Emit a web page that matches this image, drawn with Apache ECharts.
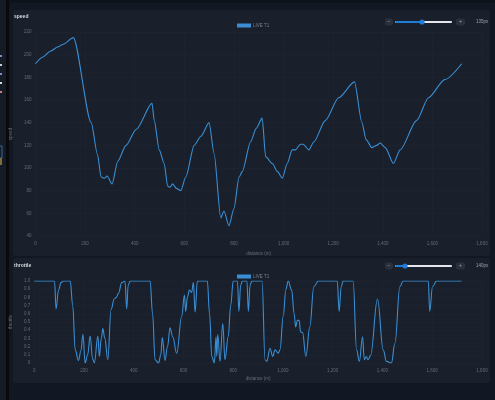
<!DOCTYPE html>
<html>
<head>
<meta charset="utf-8">
<script src="https://cdn.jsdelivr.net/npm/echarts@6/dist/echarts.min.js"></script>
<style>
  html, body { margin: 0; padding: 0; background: #0e131b; }
  #chart { width: 495px; height: 400px; }
</style>
</head>
<body>
<div id="chart"></div>
<script>
// speed trace: [distance m, km/h]
const speedData = [
  [0, 192], [30, 198], [60, 203], [92, 207], [110, 209], [153, 215],
  [225, 140], [250, 112], [265, 92], [278, 91], [289, 93], [309, 86], [332, 106],
  [365, 120], [406, 134], [470, 157], [479, 142], [499, 116], [519, 104], [533, 84],
  [543, 83], [553, 86], [568, 82], [586, 80], [606, 92], [640, 120], [667, 128],
  [700, 140], [720, 113], [747, 56], [760, 62], [780, 49], [800, 64], [821, 92],
  [834, 97], [867, 123], [890, 135], [914, 144], [928, 110], [955, 104], [975, 97],
  [995, 91], [1015, 104], [1035, 116], [1048, 116], [1068, 121], [1079, 121],
  [1102, 116], [1122, 123], [1169, 142], [1222, 162], [1286, 176],
  [1316, 140], [1333, 125], [1356, 118], [1375, 120], [1390, 122], [1410, 118],
  [1443, 104], [1470, 116], [1537, 142], [1584, 162], [1650, 178],
  [1718, 192],
];

// throttle trace: [distance m, 0..1]
const throttleData = [
  [0, 1], [82, 1], [88, 0.66], [98, 0.89], [108, 0.98], [118, 1], [145, 1],
  [155, 0.7], [165, 0.16], [178, 0.03], [188, 0.15], [196, 0.35], [205, 0],
  [215, 0.1], [225, 0.33], [235, 0.05], [242, 0], [256, 0.33], [262, 0.08],
  [270, 0.3], [276, 0.42], [284, 0.3], [296, 0.04], [309, 0.65], [322, 0.78],
  [330, 0.8], [339, 0.85], [352, 0.98], [365, 1], [372, 0.66], [378, 0.95],
  [386, 1], [466, 1], [476, 0.6], [486, 0.04], [500, 0], [509, 0.1], [515, 0.31],
  [526, 0.03], [536, 0.2], [546, 0.43], [557, 0.32], [573, 0.12], [593, 0.57],
  [604, 0.83], [609, 0.63], [616, 0.8], [624, 0.89], [633, 0.86], [640, 0.98],
  [647, 0.62], [656, 1], [696, 1], [705, 0.6], [714, 0.08], [724, 0], [731, 0.32],
  [734, 0.08], [738, 0.35], [747, 0.02], [758, 0.48], [767, 0.04], [780, 0.32],
  [790, 0.7], [800, 1], [817, 1], [823, 0.63], [830, 0.95], [837, 1], [855, 1],
  [861, 0.63], [868, 0.95], [875, 1], [916, 1], [928, 0.04], [935, 0.02],
  [948, 0.18], [959, 0.08], [968, 0.16], [981, 0.12], [988, 0.16], [1001, 0.57],
  [1012, 0.9], [1021, 1], [1035, 0.89], [1045, 0.6], [1051, 0.44], [1058, 0.52],
  [1065, 0.52], [1071, 0.38], [1079, 0.37], [1092, 0.08], [1108, 0.44],
  [1124, 0.93], [1142, 1], [1218, 1], [1226, 0.63], [1234, 0.93], [1242, 1],
  [1282, 1], [1296, 0.16], [1307, 0.02], [1320, 0.32], [1327, 0.04], [1335, 0.08],
  [1342, 0.04], [1352, 0.09], [1380, 0.78], [1403, 0.16], [1416, 0.02], [1436, 0],
  [1450, 0.24], [1470, 0.93], [1483, 1], [1584, 1], [1590, 0.63], [1601, 0.93],
  [1617, 1], [1718, 1],
];

const panelTitles = ['speed', 'throttle'];
const heightLabels = ['135px', '140px'];
const seriesName = 'LIVE T1';

const LINE = '#3a8fd4';
const AXIS_TEXT = '#646d78';
const GRID_LINE = '#1f2631';

const fmtDistance = (v) => v.toLocaleString('en-US');

function xAxisFor(gridIndex) {
  return {
    type: 'value',
    gridIndex,
    min: 0,
    max: 1800,
    interval: 200,
    name: 'distance (m)',
    nameLocation: 'middle',
    nameGap: 12,
    nameTextStyle: { color: AXIS_TEXT, fontSize: 4.5 },
    axisLine: { show: false },
    axisTick: { show: false },
    axisLabel: { color: AXIS_TEXT, fontSize: 4.5, margin: 5, formatter: fmtDistance },
    splitLine: { lineStyle: { color: GRID_LINE, width: 0.6 } },
  };
}

function slider(y, thumbX) {
  return [
    { type: 'rect', shape: { x: 385, y: y - 3.5, width: 8, height: 7, r: 2 }, style: { fill: '#2a313c' } },
    { type: 'text', x: 389, y: y, style: { text: '−', fill: '#9aa2ac', fontSize: 5, align: 'center', verticalAlign: 'middle' } },
    { type: 'rect', shape: { x: 395, y: y - 1, width: 57, height: 2, r: 1 }, style: { fill: '#e4e6e9' } },
    { type: 'rect', shape: { x: 395, y: y - 1, width: thumbX - 395, height: 2, r: 1 }, style: { fill: '#1f7bd8' } },
    { type: 'circle', shape: { cx: thumbX, cy: y, r: 2.6 }, style: { fill: '#1f7bd8' } },
    { type: 'rect', shape: { x: 456, y: y - 3.5, width: 9, height: 7, r: 2 }, style: { fill: '#2a313c' } },
    { type: 'text', x: 460.5, y: y, style: { text: '+', fill: '#9aa2ac', fontSize: 5, align: 'center', verticalAlign: 'middle' } },
  ];
}

const chart = echarts.init(document.getElementById('chart'));

chart.setOption({
  backgroundColor: '#0e131b',
  animation: false,
  graphic: [
    // sidebar + frame
    { type: 'rect', shape: { x: 0, y: 0, width: 6, height: 400 }, style: { fill: '#151b25' } },
    { type: 'rect', shape: { x: 6, y: 0, width: 3, height: 400 }, style: { fill: '#07090d' } },
    { type: 'rect', shape: { x: 0, y: 55, width: 2, height: 2 }, style: { fill: '#8b88c9' } },
    { type: 'rect', shape: { x: 0, y: 64, width: 2, height: 2 }, style: { fill: '#c9ccd6' } },
    { type: 'rect', shape: { x: 0, y: 73, width: 2, height: 2 }, style: { fill: '#8b88c9' } },
    { type: 'rect', shape: { x: 0, y: 82, width: 2, height: 2 }, style: { fill: '#d7d9de' } },
    { type: 'rect', shape: { x: 0, y: 91, width: 2, height: 2 }, style: { fill: '#c98080' } },
    { type: 'rect', shape: { x: -2, y: 146, width: 4, height: 12 }, style: { fill: 'none', stroke: '#3b7fc0', lineWidth: 0.8 } },
    { type: 'rect', shape: { x: 0, y: 158, width: 2, height: 7 }, style: { fill: '#7d6d3a' } },
    { type: 'rect', shape: { x: 9, y: 3, width: 486, height: 397, r: [4, 0, 0, 0] }, style: { fill: '#121823' } },
    // cards
    { type: 'rect', shape: { x: 13, y: 10, width: 477, height: 246, r: 3 }, style: { fill: '#191f2b' } },
    { type: 'rect', shape: { x: 13, y: 258, width: 477, height: 125, r: 3 }, style: { fill: '#191f2b' } },
    ...slider(22, 422),
    { type: 'text', x: 476, y: 22, style: { text: heightLabels[0], fill: '#9aa2ac', fontSize: 4.5, verticalAlign: 'middle' } },
    ...slider(266, 405),
    { type: 'text', x: 476, y: 266, style: { text: heightLabels[1], fill: '#9aa2ac', fontSize: 4.5, verticalAlign: 'middle' } },
  ],
  title: [
    { text: panelTitles[0], left: 14, top: 14, padding: 0, textStyle: { color: '#d3d7dd', fontSize: 5, fontWeight: 'bold' } },
    { text: panelTitles[1], left: 14, top: 263, padding: 0, textStyle: { color: '#d3d7dd', fontSize: 5, fontWeight: 'bold' } },
  ],
  legend: [
    {
      top: 23, left: 237, padding: 0, itemWidth: 14, itemHeight: 4, itemGap: 2,
      icon: 'rect', data: [seriesName],
      textStyle: { color: '#7b848f', fontSize: 4.5, padding: [0, 0, 0, -3] },
    },
    {
      top: 274, left: 237, padding: 0, itemWidth: 14, itemHeight: 4, itemGap: 2,
      icon: 'rect', data: [seriesName],
      textStyle: { color: '#7b848f', fontSize: 4.5, padding: [0, 0, 0, -3] },
    },
  ],
  grid: [
    { left: 34, right: 13, top: 32, height: 204 },
    { left: 34, right: 13, top: 281, height: 82 },
  ],
  xAxis: [xAxisFor(0), { ...xAxisFor(1), nameGap: 13 }],
  yAxis: [
    {
      type: 'value',
      gridIndex: 0,
      min: 40,
      max: 220,
      interval: 20,
      name: 'speed',
      nameLocation: 'middle',
      nameGap: 14,
      nameTextStyle: { color: AXIS_TEXT, fontSize: 4.5 },
      axisLine: { show: false },
      axisTick: { show: false },
      axisLabel: { color: AXIS_TEXT, fontSize: 4.5, margin: 4 },
      splitLine: { lineStyle: { color: GRID_LINE, width: 0.6 } },
    },
    {
      type: 'value',
      gridIndex: 1,
      min: 0,
      max: 1,
      interval: 0.1,
      name: 'throttle',
      nameLocation: 'middle',
      nameGap: 14,
      nameTextStyle: { color: AXIS_TEXT, fontSize: 4.5 },
      axisLine: { show: false },
      axisTick: { show: false },
      axisLabel: {
        color: AXIS_TEXT,
        fontSize: 4.5,
        margin: 4,
        formatter: (v) => (v === 0 ? '0' : v.toFixed(1)),
      },
      splitLine: { lineStyle: { color: GRID_LINE, width: 0.6 } },
    },
  ],
  series: [
    {
      name: seriesName,
      type: 'line',
      xAxisIndex: 0,
      yAxisIndex: 0,
      data: speedData,
      showSymbol: false,
      smooth: 0.25,
      smoothMonotone: 'x',
      color: LINE,
      lineStyle: { width: 1.1, color: LINE },
    },
    {
      name: seriesName,
      type: 'line',
      xAxisIndex: 1,
      yAxisIndex: 1,
      data: throttleData,
      showSymbol: false,
      smooth: 0.4,
      smoothMonotone: 'x',
      color: LINE,
      lineStyle: { width: 1.1, color: LINE },
    },
  ],
});
</script>
</body>
</html>
